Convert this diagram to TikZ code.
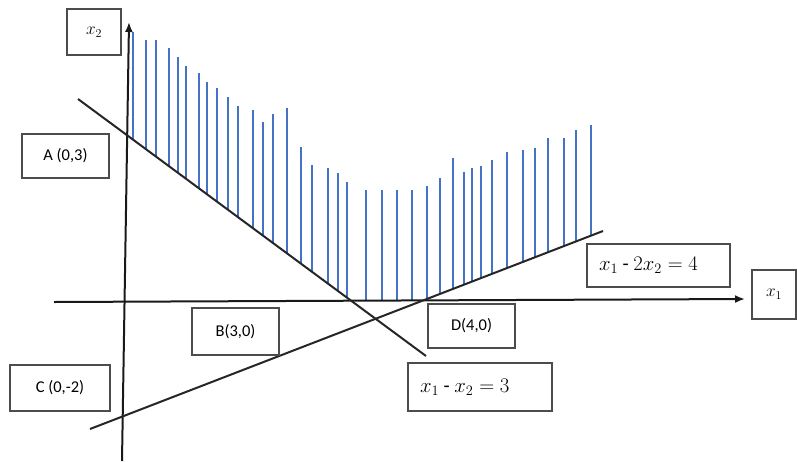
\documentclass[tikz,border=0pt]{standalone}
\usepackage[no-math]{fontspec}
\setmainfont{Carlito}
\usetikzlibrary{arrows.meta}
\definecolor{hatchblue}{RGB}{68,114,196}
\begin{document}
\begin{tikzpicture}[x=1pt,y=-1pt,
  axisline/.style={line width=2pt, draw=black!90, -{Latex[length=10pt,width=8pt]}},
  bound/.style={line width=2pt, draw=black!85},
  hatch/.style={line width=2pt, draw=hatchblue},
  box/.style={draw=black!70, line width=1.2pt, fill=white, inner sep=0pt,
    font=\fontsize{16.5}{18}\selectfont},
  eqbox/.style={box, align=left, inner xsep=12pt, font=\fontsize{20}{22}\selectfont},
  axbox/.style={box, font=\fontsize{17}{18}\selectfont},
]
\useasboundingbox (0,0) rectangle (797,461);

% hatching of the feasible region
\foreach \hx/\hy in {133/32,146/40,156/40,169/48,178/57,186/66,199/73,207/82,217/88,
  228/97,238/106,253/110,263/122,273/114,287/108,301/147,312/165,328/168,338/173,
  347/182,366/190,382/190,397/190,412/190,427/186,440/178,453/158,464/172,472/168,
  481/166,492/160,507/152,523/150,535/148,548/138,564/138,576/130,591/125}{
  \pgfmathsetmacro\hb{min(99+0.7385*(\hx-78),429-0.386*(\hx-90),301)}
  \draw[hatch] (\hx,\hb) -- (\hx,\hy);
}

% axes
\coordinate (yb) at (122,461);
\coordinate (yt) at (129,22);
\coordinate (xl) at (54,302);
\coordinate (xr) at (745,299);
\draw[axisline] (yb) -- (yt);
\draw[axisline] (xl) -- (xr);

% constraint lines
\coordinate (l1s) at (78,99);
\coordinate (l1e) at (426,356);
\coordinate (l2s) at (90,429);
\coordinate (l2e) at (603,231);
\draw[bound] (l1s) -- (l1e);
\draw[bound] (l2s) -- (l2e);

% label boxes
\node[axbox, minimum width=54pt, minimum height=46pt] (x2lab) at (94,32) {$x_2$};
\node[axbox, minimum width=44pt, minimum height=49pt] (x1lab) at (774,294.5) {$x_1$};
\node[box, minimum width=87pt, minimum height=44pt] (A) at (65.5,156) {A (0,3)};
\node[box, minimum width=87pt, minimum height=47pt] (B) at (235.5,331.5) {B(3,0)};
\node[box, minimum width=100pt, minimum height=46pt] (C) at (60,388) {C (0,-2)};
\node[box, minimum width=87pt, minimum height=44pt] (D) at (471.5,326) {D(4,0)};
\node[eqbox, text width=120pt, minimum height=48pt] (eq1) at (480,387)
  {$x_1 \mathbin{\mbox{-}} x_2 = 3$};
\node[eqbox, text width=119pt, minimum height=43pt] (eq2) at (658.5,265.5)
  {$x_1 \mathbin{\mbox{-}} 2x_2 = 4$};
\end{tikzpicture}
\end{document}
